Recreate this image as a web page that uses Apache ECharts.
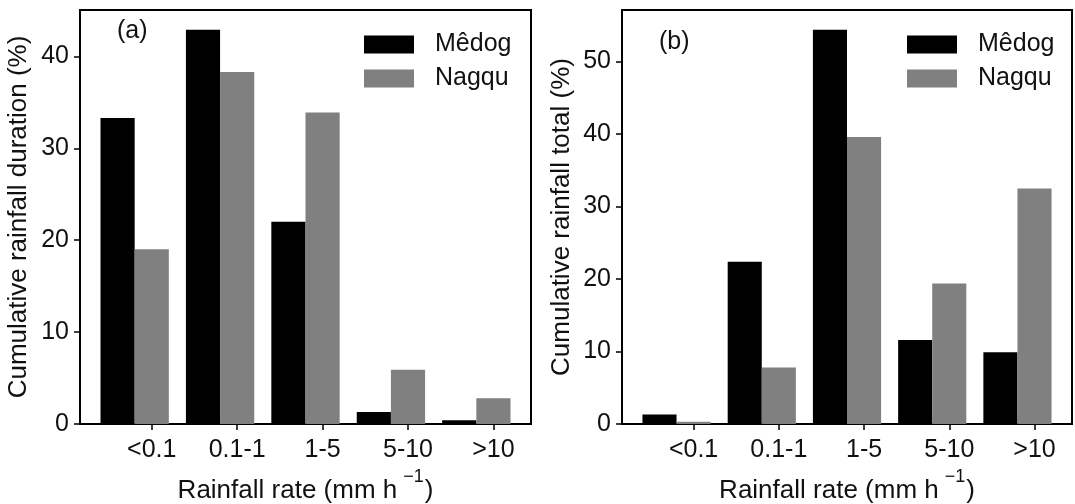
<!DOCTYPE html>
<html>
<head>
<meta charset="utf-8">
<script src="https://cdn.jsdelivr.net/npm/echarts@6/dist/echarts.min.js"></script>
<style>
  html, body { margin: 0; padding: 0; background: #fff; }
  #chart { width: 1075px; height: 504px; }
</style>
</head>
<body>
<div id="chart"></div>
<script>
// Rainfall-rate classes shared by both panels
const categories = ['<0.1', '0.1-1', '1-5', '5-10', '>10'];

// (a) Cumulative rainfall duration (%)
const durationMedog = [33.3, 42.9, 22.0, 1.3, 0.4];
const durationNagqu = [19.0, 38.3, 33.9, 5.9, 2.8];

// (b) Cumulative rainfall total (%)
const totalMedog = [1.3, 22.4, 54.4, 11.6, 9.9];
const totalNagqu = [0.3, 7.8, 39.6, 19.4, 32.5];

// y-axis tick values for each panel
const durationTicks = [0, 10, 20, 30, 40];
const totalTicks = [0, 10, 20, 30, 40, 50];

const seriesNames = ['Mêdog', 'Nagqu'];
const seriesColors = ['#000000', '#808080'];

const FONT = "'Liberation Sans', Arial, sans-serif";
const FS = 25;
const FS_TITLE = 26;
const TEXT = '#111';

// bar geometry in category units: two bars of width 0.4, the tick sits under the second bar
const BAR_W = 0.4;
const OFFSETS = [-0.6, -0.2];
const xLo = OFFSETS[0];
const xHi = categories.length - 1 + OFFSETS[1] + BAR_W;
const xPad = (xHi - xLo) * 0.05;
const xMin = xLo - xPad;
const xMax = xHi + xPad;
const catIdx = categories.map((_, i) => i);

function toPairs(arr) { return arr.map((v, i) => [i, v]); }

function barRenderer(offset) {
  return function (params, api) {
    const x = api.value(0);
    const y = api.value(1);
    const p0 = api.coord([x + offset, y]);
    const p1 = api.coord([x + offset + BAR_W, 0]);
    return {
      type: 'rect',
      shape: { x: p0[0], y: p0[1], width: p1[0] - p0[0], height: p1[1] - p0[1] },
      style: api.style()
    };
  };
}

function xAxisFor(gridIndex) {
  return {
    type: 'value', gridIndex, min: xMin, max: xMax,
    splitLine: { show: false },
    axisLine: { show: true, onZero: false, lineStyle: { color: '#000', width: 2 } },
    axisTick: { show: true, customValues: catIdx, length: 6, lineStyle: { color: '#000', width: 1.5 } },
    axisLabel: {
      customValues: catIdx, margin: 14, color: TEXT, fontSize: FS, fontFamily: FONT,
      formatter: v => categories[Math.round(v)]
    },
    name: 'Rainfall rate (mm h{sup|−1})',
    nameLocation: 'middle', nameGap: 43,
    nameTextStyle: {
      color: TEXT, fontSize: FS_TITLE, fontFamily: FONT,
      rich: { sup: { fontSize: 18, fontFamily: FONT, color: TEXT, padding: [0, 1, 28, 6] } }
    }
  };
}

function yAxisFor(gridIndex, ticks, values, title, gap) {
  const top = Math.max(...values) * 1.05;
  return {
    type: 'value', gridIndex, min: 0, max: top,
    splitLine: { show: false },
    axisLine: { show: true, onZero: false, lineStyle: { color: '#000', width: 2 } },
    axisTick: { show: true, customValues: ticks, length: 6, lineStyle: { color: '#000', width: 1.5 } },
    axisLabel: { customValues: ticks, margin: 11, color: TEXT, fontSize: FS, fontFamily: FONT },
    name: title, nameLocation: 'middle', nameGap: gap, nameRotate: 90,
    nameTextStyle: { color: TEXT, fontSize: FS_TITLE, fontFamily: FONT }
  };
}

function legendFor(left) {
  return {
    left, top: 27, orient: 'vertical',
    icon: 'rect', itemWidth: 50, itemHeight: 18, itemGap: 9,
    selectedMode: false,
    textStyle: { color: TEXT, fontSize: FS, fontFamily: FONT, padding: [0, 0, 0, 16] },
    data: seriesNames.map((n, i) => ({ name: n, itemStyle: { color: seriesColors[i] } }))
  };
}

function seriesFor(idx, medog, nagqu) {
  return [medog, nagqu].map((vals, k) => ({
    type: 'custom', name: seriesNames[k],
    xAxisIndex: idx, yAxisIndex: idx,
    renderItem: barRenderer(OFFSETS[k]),
    itemStyle: { color: seriesColors[k] },
    encode: { x: 0, y: 1 },
    data: toPairs(vals),
    z: 2
  }));
}

const gridBase = {
  top: 10, height: 414, show: true, borderColor: '#000', borderWidth: 2,
  backgroundColor: 'transparent', containLabel: false, outerBoundsMode: 'none'
};

const chart = echarts.init(document.getElementById('chart'), null, { renderer: 'canvas' });
chart.setOption({
  animation: false,
  backgroundColor: '#fff',
  title: [
    { text: '(a)', left: 117, top: 19, textStyle: { color: TEXT, fontSize: FS, fontFamily: FONT, fontWeight: 'normal' }, padding: 0 },
    { text: '(b)', left: 659, top: 30, textStyle: { color: TEXT, fontSize: FS, fontFamily: FONT, fontWeight: 'normal' }, padding: 0 }
  ],
  legend: [legendFor(359), legendFor(902)],
  grid: [
    Object.assign({ left: 80, width: 451 }, gridBase),
    Object.assign({ left: 622, width: 450 }, gridBase)
  ],
  xAxis: [xAxisFor(0), xAxisFor(1)],
  yAxis: [
    yAxisFor(0, durationTicks, durationMedog.concat(durationNagqu), 'Cumulative rainfall duration (%)', 48),
    yAxisFor(1, totalTicks, totalMedog.concat(totalNagqu), 'Cumulative rainfall total (%)', 47)
  ],
  series: seriesFor(0, durationMedog, durationNagqu).concat(seriesFor(1, totalMedog, totalNagqu))
});
</script>
</body>
</html>
